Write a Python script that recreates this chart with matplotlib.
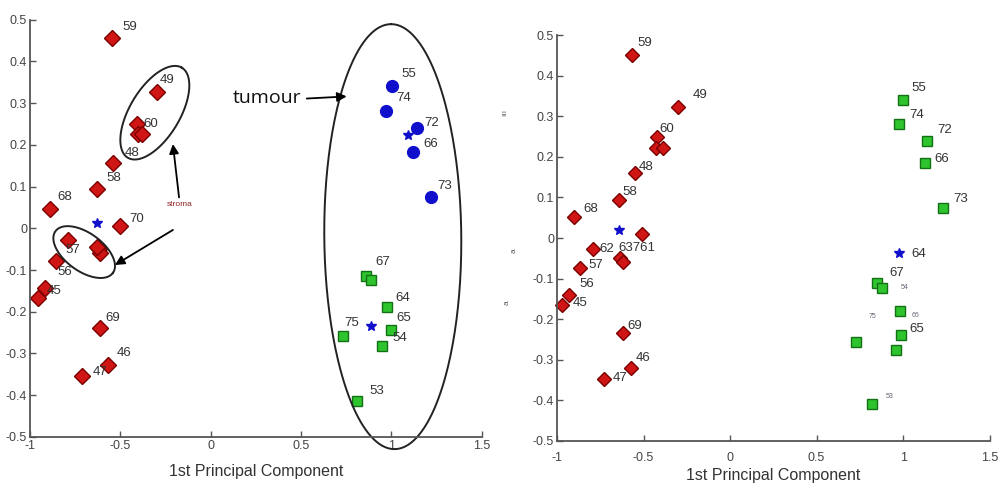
import matplotlib.pyplot as plt
import numpy as np

plt.rcParams['font.family'] = ['Liberation Sans', 'DejaVu Sans']

# ---- left panel: PCA scores ----
left_red_x = [-0.546, -0.297, -0.408, -0.40, -0.38, -0.54, -0.63, -0.89, -0.50, -0.79,
              -0.62, -0.61, -0.63, -0.855, -0.917, -0.956, -0.613, -0.568, -0.71]
left_red_y = [0.456, 0.326, 0.25, 0.226, 0.226, 0.156, 0.093, 0.047, 0.005, -0.028,
              -0.05, -0.06, -0.045, -0.079, -0.142, -0.168, -0.238, -0.328, -0.355]
left_red_lbl = ['59', '49', '60', '', '', '48', '58', '68', '70', '57',
                '', '', '', '56', '45', '', '69', '46', '47']

left_blue_x = [1.002, 0.969, 1.14, 1.12, 1.22]
left_blue_y = [0.34, 0.282, 0.241, 0.183, 0.074]
left_blue_lbl = ['55', '74', '72', '66', '73']

left_green_x = [0.86, 0.886, 0.974, 0.996, 0.95, 0.73, 0.81]
left_green_y = [-0.115, -0.125, -0.188, -0.243, -0.282, -0.258, -0.415]
left_green_lbl = ['67', '', '64', '65', '54', '', '53']

left_star_x = [-0.63, 1.09, 0.886]
left_star_y = [0.012, 0.224, -0.234]
left_star_lbl = ['', '', '75']

# ---- right panel ----
right_red_x = [-0.567, -0.30, -0.42, -0.43, -0.39, -0.55, -0.64, -0.90, -0.51, -0.79,
               -0.635, -0.62, -0.87, -0.93, -0.97, -0.62, -0.57, -0.73]
right_red_y = [0.451, 0.322, 0.25, 0.221, 0.223, 0.159, 0.093, 0.051, 0.009, -0.028,
               -0.05, -0.058, -0.075, -0.14, -0.164, -0.233, -0.32, -0.347]
right_red_lbl = ['59', '49', '60', '', '', '48', '58', '68', '', '62',
                 '63761', '', '57', '56', '45', '69', '46', '47']

right_green_x = [0.998, 0.975, 1.14, 1.125, 1.23, 0.85, 0.88, 0.98, 0.99, 0.73, 0.957, 0.82]
right_green_y = [0.34, 0.28, 0.238, 0.184, 0.075, -0.112, -0.122, -0.181, -0.24, -0.256,
                 -0.275, -0.409]
right_green_lbl = ['55', '74', '72', '66', '73', '67', '', '', '65', '', '', '']
right_green_tiny = ['', '', '', '', '', '', '54', '66', '', '75', '', '53']

right_star_x = [-0.64, 0.975]
right_star_y = [0.019, -0.038]
right_star_lbl = ['', '64']

x_ticks = [-1, -0.5, 0, 0.5, 1, 1.5]
x_tick_lbl = ['-1', '-0.5', '0', '0.5', '1', '1.5']
y_ticks = [0.5, 0.4, 0.3, 0.2, 0.1, 0, -0.1, -0.2, -0.3, -0.4, -0.5]
y_tick_lbl = ['0.5', '0.4', '0.3', '0.2', '0.1', '0', '-0.1', '-0.2', '-0.3', '-0.4', '-0.5']

# label offsets in pixels (dx right, dy down), same order as the points
left_red_off = [(10, -11), (3, -12), (6, 0), (0, 0), (0, 0), (12, -10), (10, -11), (8, -12),
                (9, -7), (-3, 10), (0, 0), (0, 0), (0, 0), (1, 11), (2, 3), (0, 0),
                (5, -10), (9, -12), (10, -4)]
left_blue_off = [(10, -12), (11, -13), (8, -5), (10, -8), (6, -11)]
left_green_off = [(9, -14), (0, 0), (9, -9), (6, -12), (10, -8), (0, 0), (12, -10)]
left_star_off = [(0, 0), (0, 0), (-26, -3)]
right_red_off = [(5, -12), (15, -12), (2, -8), (0, 0), (0, 0), (4, -6), (3, -8), (9, -8),
                 (0, 0), (6, 0), (-2, -10), (0, 0), (9, -3), (10, -11), (10, -2),
                 (5, -7), (4, -10), (9, -1)]
right_green_off = [(9, -12), (11, -9), (10, -11), (10, -4), (10, -9), (12, -10), (0, 0),
                   (0, 0), (8, -6), (0, 0), (0, 0), (0, 0)]
right_green_tiny_off = [(0, 0)] * 6 + [(18, 0), (12, 4), (0, 0), (12, -25), (0, 0), (14, -8)]
right_star_off = [(0, 0), (13, 1)]

RED, RED_EDGE = '#d01515', '#7a0000'
BLUE = '#1010cc'
GREEN, GREEN_EDGE = '#2ec42e', '#147014'
TXT = '#333333'

fig = plt.figure(figsize=(10.06, 4.92), dpi=100)
ax1 = fig.add_axes([0.0298, 0.112, 0.449, 0.848])
ax2 = fig.add_axes([0.5537, 0.1037, 0.430, 0.825])


def style_axes(ax, pad, labelpad):
    ax.set_xlim(-1, 1.5)
    ax.set_ylim(-0.5, 0.5)
    ax.set_xticks(x_ticks)
    ax.set_xticklabels(x_tick_lbl)
    ax.set_yticks(y_ticks)
    ax.set_yticklabels(y_tick_lbl)
    for s in ['top', 'right']:
        ax.spines[s].set_visible(False)
    for s in ['left', 'bottom']:
        ax.spines[s].set_color('#555555')
        ax.spines[s].set_linewidth(1.3)
    ax.tick_params(direction='in', length=4, width=1, colors='#555555',
                   labelcolor='#444444', labelsize=9, pad=2)
    ax.tick_params(axis='x', pad=pad)
    ax.set_xlabel('1st Principal Component', fontsize=11.5, color=TXT, labelpad=labelpad)
    ax.patch.set_alpha(0)


def points(ax, xs, ys, lbls, offs, marker, ms, fc, ec):
    ax.plot(xs, ys, linestyle='none', marker=marker, ms=ms, mfc=fc, mec=ec,
            mew=1, clip_on=False)
    tags(ax, xs, ys, lbls, offs, 9.5, TXT)


def tags(ax, xs, ys, lbls, offs, size, color):
    for x, y, t, (dx, dy) in zip(xs, ys, lbls, offs):
        if t:
            ax.annotate(t, (x, y), xytext=(dx, -dy), textcoords='offset pixels',
                        ha='left', va='center', fontsize=size, color=color)


def ring(ax, cx, cy, w, h, ang):
    # ellipse sized in pixels around a data-space centre
    t = np.linspace(0, 2 * np.pi, 300)
    a = np.deg2rad(ang)
    px = w / 2 * np.cos(t) * np.cos(a) - h / 2 * np.sin(t) * np.sin(a)
    py = w / 2 * np.cos(t) * np.sin(a) + h / 2 * np.sin(t) * np.cos(a)
    c = ax.transData.transform((cx, cy))
    pts = ax.transData.inverted().transform(np.column_stack([c[0] + px, c[1] + py]))
    ax.plot(pts[:, 0], pts[:, 1], color='#222222', lw=1.4, clip_on=False)


style_axes(ax1, 2, 9)
style_axes(ax2, 8, 3)

points(ax1, left_red_x, left_red_y, left_red_lbl, left_red_off, 'D', 8, RED, RED_EDGE)
points(ax1, left_blue_x, left_blue_y, left_blue_lbl, left_blue_off, 'o', 8.5, BLUE, BLUE)
points(ax1, left_green_x, left_green_y, left_green_lbl, left_green_off, 's', 6.5, GREEN, GREEN_EDGE)
points(ax1, left_star_x, left_star_y, left_star_lbl, left_star_off, '*', 7, BLUE, BLUE)

points(ax2, right_red_x, right_red_y, right_red_lbl, right_red_off, 'D', 7, RED, RED_EDGE)
points(ax2, right_green_x, right_green_y, right_green_lbl, right_green_off, 's', 6.5, GREEN, GREEN_EDGE)
tags(ax2, right_green_x, right_green_y, right_green_tiny, right_green_tiny_off, 5, '#667')
points(ax2, right_star_x, right_star_y, right_star_lbl, right_star_off, '*', 7, BLUE, BLUE)

# stray rotated marks left of the right panel's y axis
ax2.text(-0.12, 0.81, 'ııı', transform=ax2.transAxes, rotation=90, fontsize=6,
         color='#666', ha='center', va='center')
ax2.text(-0.10, 0.47, 'a', transform=ax2.transAxes, rotation=90, fontsize=6,
         color='#555', ha='center', va='center')
ax2.text(-0.115, 0.34, 'a', transform=ax2.transAxes, rotation=90, fontsize=6,
         color='#555', ha='center', va='center')

# cluster outlines and call-outs on the left panel
ring(ax1, -0.309, 0.277, 105, 50, 59)
ring(ax1, -0.70, -0.057, 71, 38, -36)
ring(ax1, 1.008, -0.02, 425, 137, 90.5)

arrow = dict(arrowstyle='-|>', color='black', lw=1.3, mutation_scale=14,
             shrinkA=0, shrinkB=0)
ax1.text(0.50, 0.312, 'tumour', fontsize=14, ha='right', va='center',
         family='Open Sans', color='#111111')
ax1.annotate('', xy=(0.753, 0.316), xytext=(0.532, 0.311), arrowprops=arrow)
ax1.text(-0.17, 0.057, 'stroma', fontsize=6, ha='center', va='center', color='#8b2020')
ax1.annotate('', xy=(-0.209, 0.202), xytext=(-0.175, 0.074), arrowprops=arrow)
ax1.annotate('', xy=(-0.53, -0.088), xytext=(-0.209, -0.004), arrowprops=arrow)

fig.savefig('out.png', dpi=100)
